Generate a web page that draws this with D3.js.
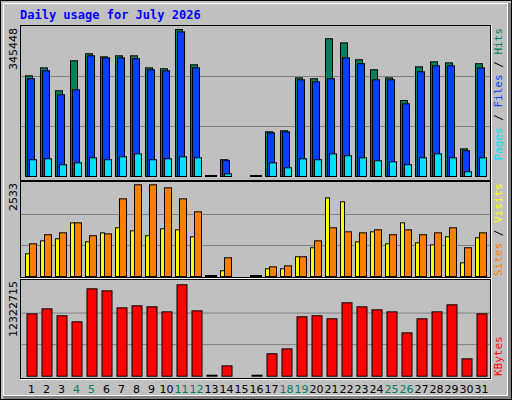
<!DOCTYPE html>
<html><head><meta charset="utf-8">
<script src="https://cdn.jsdelivr.net/npm/d3@7"></script>
<style>body{margin:0;background:#fff}svg{display:block}</style>
</head><body><svg id="c" width="512" height="400"></svg>
<script>
const days = d3.range(1,32);
const weekends = [4,5,11,12,18,19,25,26];
const hits = [236600,255300,201400,271900,288400,281200,283600,283600,255300,253200,345448,262500,0,39400,null,0,105000,107400,231800,229700,323700,314000,274300,250800,231800,178600,257700,269400,267000,64900,265000];
const files = [229700,248400,192100,203800,283600,278800,278800,276700,250800,248400,339900,255300,0,38000,null,0,102600,105000,227300,222500,229700,278800,265000,227300,227300,170700,246000,260100,260100,60500,255300];
const pages = [39400,41500,27600,32100,43900,39400,46300,53200,39400,41500,46300,43900,0,6200,null,0,32100,20400,41500,39400,53200,48700,43900,37000,34500,27600,43900,53200,43900,11100,43900];
const visits = [626,985,1041,1482,957,1206,1345,1261,1125,1317,1289,1097,0,157,null,0,213,213,545,793,2173,2064,957,1234,902,1482,930,874,1097,377,1069];
const sites = [902,1153,1206,1482,1125,1178,2145,2533,2533,2449,2145,1786,0,517,null,0,266,294,545,985,1345,1234,1206,1289,1153,1289,1153,1206,1345,793,1206];
const kbytes = [8404000,9082000,8145000,7332000,11781000,11509000,9217000,9489000,9353000,8675000,12322715,8811000,0,1392000,null,0,3019000,3684000,8010000,8145000,7739000,9895000,9353000,8946000,8675000,5841000,7739000,8675000,9624000,2341000,8404000];
const maxLabels = ["345448","2533","12322715"];

const svg = d3.select("#c");
svg.append("rect").attr("x",0).attr("y",0).attr("width",512).attr("height",400).attr("fill","#C0C0C0");
svg.append("rect").attr("x",508).attr("y",3).attr("width",4).attr("height",397).attr("fill","#808080");
svg.append("rect").attr("x",3).attr("y",396).attr("width",509).attr("height",4).attr("fill","#808080");
svg.append("rect").attr("x",0.5).attr("y",0.5).attr("width",511).attr("height",399).attr("fill","none").attr("stroke","#000");
svg.append("rect").attr("x",3.5).attr("y",3.5).attr("width",504).attr("height",392).attr("fill","none").attr("stroke","#fff");

svg.append("text").attr("x",20).attr("y",19).attr("fill","#0000FF")
  .attr("font-family","DejaVu Sans Mono").attr("font-weight","bold").attr("font-size",12)
  .text("Daily usage for July 2026");

const x = d3.scaleBand().domain(days).range([24,489]).paddingInner(0);
const panels = [{top:25,bot:180},{top:181,bot:277},{top:279,bot:378}];
function panel(p){
  svg.append("rect").attr("x",20.5).attr("y",p.top+0.5).attr("width",470).attr("height",p.bot-p.top)
    .attr("fill","#C0C0C0").attr("stroke","#000");
  svg.append("line").attr("x1",21).attr("x2",491).attr("y1",p.bot+1.5).attr("y2",p.bot+1.5).attr("stroke","#fff");
  svg.append("line").attr("x1",491.5).attr("x2",491.5).attr("y1",p.top).attr("y2",p.bot+2).attr("stroke","#fff");
}
panels.forEach(panel);

function grid(y, base, top){
  const h=base-top;
  [1,2].forEach(k=>svg.append("line").attr("x1",21).attr("x2",490).attr("y1",base-h*k/3+0.5).attr("y2",base-h*k/3+0.5).attr("stroke","#808080"));
}
function bars(data, y, off, w, color){
  const g = svg.append("g");
  days.forEach((d,i)=>{
    const v=data[i]; if(v===null) return;
    const x0 = x(d)+off;
    if(v===0){ g.append("rect").attr("x",x0).attr("y",y(0)-1).attr("width",w+1).attr("height",2).attr("fill","#000"); return;}
    g.append("rect").attr("x",x0+0.5).attr("y",y(v)+0.5).attr("width",w).attr("height",y(0)-y(v))
      .attr("fill",color).attr("stroke","#000");
  });
}
// top panel
const yT = d3.scaleLinear().domain([0,345448]).range([176,29]);
grid(null,176,26);
bars(hits,yT,1,7,"#00805C");
bars(files,yT,3,7,"#0040FF");
bars(pages,yT,5,7,"#00E0FF");
// middle
const yM = d3.scaleLinear().domain([0,2533]).range([276,184.3]);
grid(null,276,183);
bars(visits,yM,1,4,"#FFFF00");
bars(sites,yM,5,7,"#FF8000");
// bottom
const yB = d3.scaleLinear().domain([0,12322715]).range([375.7,284.3]);
grid(null,375.7,281);
bars(kbytes,yB,2.5,10,"#FF0000");

// max labels
[[28,maxLabels[0]],[183,maxLabels[1]],[281,maxLabels[2]]].forEach(([yy,t])=>{
  svg.append("text").attr("transform",`translate(17,${yy}) rotate(-90)`).attr("text-anchor","end")
    .attr("font-family","DejaVu Sans").attr("font-size",11).attr("fill","#000").text(t);
});
// right labels
function rlabel(yy, anchor, parts){
  const t=svg.append("text").attr("transform",`translate(502,${yy}) rotate(-90)`).attr("text-anchor",anchor)
    .attr("font-family","DejaVu Sans Mono").attr("font-size",11);
  parts.forEach(([s,c])=>t.append("tspan").attr("fill",c).text(s));
}
rlabel(28,"end",[["Pages","#00E0FF"],[" / ","#000"],["Files","#0040FF"],[" / ","#000"],["Hits","#00805C"]]);
rlabel(276,"start",[["Sites","#FF8000"],[" / ","#000"],["Visits","#FFFF00"]]);
rlabel(376,"start",[["KBytes","#FF0000"]]);

// day labels
svg.append("g").selectAll("text").data(days).join("text")
  .attr("x",d=>x(d)+x.bandwidth()/2).attr("y",393).attr("text-anchor","middle")
  .attr("font-family","DejaVu Sans").attr("font-size",11)
  .attr("fill",d=>weekends.includes(d)?"#00805C":"#000").text(d=>d);
</script></body></html>
